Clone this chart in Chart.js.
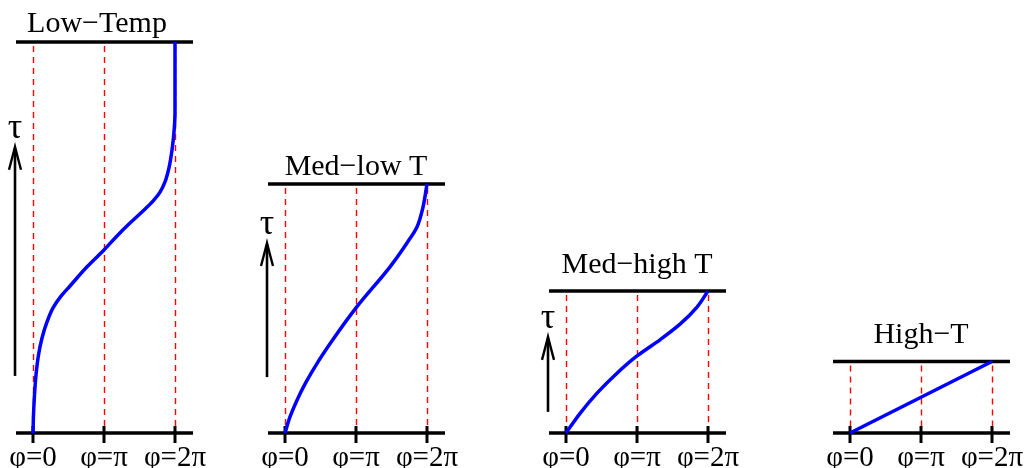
<!DOCTYPE html>
<html>
<head>
<meta charset="utf-8">
<script src="https://cdn.jsdelivr.net/npm/chart.js@4.4.1/dist/chart.umd.min.js"></script>
<style>
  html, body { margin: 0; padding: 0; background: #fff; overflow: hidden; }
  #wrap { position: relative; width: 1033px; height: 468px; }
  #wrap canvas { position: absolute; top: 0; }
</style>
</head>
<body>
<div id="wrap"></div>
<script>
// Kink profiles phi(tau) at four temperatures. phi in units of pi, tau in units of 1/T.
const panelTitles = ["Low−Temp", "Med−low T", "Med−high T", "High−T"];
const betas = [10, 6.37, 3.63, 1.83];
const tickPhi = [0, 1, 2];
const tickLabels = ["φ=0", "φ=π", "φ=2π"];

const lowTempPhi = [0, 0.007, 0.021, 0.042, 0.077, 0.127, 0.197, 0.282, 0.394, 0.521, 0.761, 1.0,
  1.183, 1.366, 1.549, 1.690, 1.789, 1.859, 1.915, 1.958, 1.986, 2.0, 2.0];
const lowTempTau = [0, 0.46, 0.97, 1.48, 1.99, 2.43, 2.84, 3.20, 3.50, 3.76, 4.25, 4.68,
  5.04, 5.37, 5.68, 5.93, 6.16, 6.42, 6.78, 7.24, 7.70, 8.21, 10];

const medLowPhi = [0, 0.070, 0.169, 0.296, 0.465, 0.690, 1.0, 1.479, 1.718, 1.859, 1.944, 2.0];
const medLowTau = [0, 0.41, 0.84, 1.30, 1.82, 2.43, 3.20, 4.25, 4.86, 5.27, 5.78, 6.37];

const medHighPhi = [0, 0.201, 0.437, 0.718, 1.0, 1.328, 1.610, 1.845, 2.0];
const medHighTau = [0, 0.51, 1.02, 1.53, 1.97, 2.39, 2.79, 3.22, 3.63];

const highTPhi = [0, 2];
const highTTau = [0, 1.83];

const curvesPhi = [lowTempPhi, medLowPhi, medHighPhi, highTPhi];
const curvesTau = [lowTempTau, medLowTau, medHighTau, highTTau];

// layout
const PX_PER_TAU = 39.1;
const AXIS_Y = 433;
const canvasLeft = [0, 252, 533, 817];
const titleGap = [10, 9, 18, 18];
const titleShift = [-7, 0, 0, 0];
const arrowSpan = [[1.46, 7.32], [1.43, 4.86], [0.54, 2.46], null];

const SERIF = '"Liberation Serif", "Times New Roman", serif';

const decorPlugin = {
  id: 'decor',
  beforeDatasetsDraw(chart, args, opts) {
    const ctx = chart.ctx;
    const xs = chart.scales.x, ys = chart.scales.y;
    const area = chart.chartArea;
    const yTop = ys.getPixelForValue(ys.max);
    const yBot = ys.getPixelForValue(0);
    ctx.save();

    // dashed red guides at 0, pi, 2pi
    ctx.strokeStyle = '#ff0000';
    ctx.lineWidth = 1.4;
    ctx.setLineDash([6, 5]);
    tickPhi.forEach(p => {
      const px = Math.round(xs.getPixelForValue(p)) + 0.5;
      ctx.beginPath();
      ctx.moveTo(px, yTop + 4);
      ctx.lineTo(px, yBot);
      ctx.stroke();
    });
    ctx.setLineDash([]);

    // top and bottom bars
    ctx.strokeStyle = '#000';
    ctx.lineWidth = 3.5;
    [yTop, yBot].forEach(py => {
      ctx.beginPath();
      ctx.moveTo(area.left, py);
      ctx.lineTo(area.right, py);
      ctx.stroke();
    });

    // ticks + labels
    ctx.lineWidth = 3;
    ctx.fillStyle = '#000';
    ctx.font = '29px ' + SERIF;
    ctx.textAlign = 'center';
    ctx.textBaseline = 'alphabetic';
    tickPhi.forEach((p, i) => {
      const px = xs.getPixelForValue(p);
      ctx.beginPath();
      ctx.moveTo(px, yBot - 7);
      ctx.lineTo(px, yBot + 10);
      ctx.stroke();
      ctx.fillText(tickLabels[i], px, yBot + 33);
    });

    // title
    ctx.font = '30px ' + SERIF;
    ctx.fillText(opts.title, xs.getPixelForValue(1) + opts.shift, yTop - opts.gap);

    // tau arrow
    if (opts.arrow) {
      const ax = area.left - 1;
      const y0 = ys.getPixelForValue(opts.arrow[0]);
      const y1 = ys.getPixelForValue(opts.arrow[1]);
      ctx.lineWidth = 2.6;
      ctx.beginPath();
      ctx.moveTo(ax, y0);
      ctx.lineTo(ax, y1 + 2);
      ctx.stroke();
      ctx.lineWidth = 2.4;
      ctx.beginPath();
      ctx.moveTo(ax - 6, y1 + 23);
      ctx.quadraticCurveTo(ax - 2.5, y1 + 10, ax, y1);
      ctx.quadraticCurveTo(ax + 2.5, y1 + 10, ax + 6, y1 + 23);
      ctx.stroke();
      ctx.font = '36px ' + SERIF;
      ctx.fillText('τ', ax, y1 - 9);
    }
    ctx.restore();
  }
};

const wrap = document.getElementById('wrap');
panelTitles.forEach((title, k) => {
  const canvas = document.createElement('canvas');
  canvas.width = 220;
  canvas.height = 468;
  canvas.style.left = canvasLeft[k] + 'px';
  wrap.appendChild(canvas);

  const points = curvesPhi[k].map((p, i) => ({ x: p, y: curvesTau[k][i] }));

  new Chart(canvas.getContext('2d'), {
    type: 'line',
    data: {
      datasets: [{
        data: points,
        indexAxis: 'y',
        borderColor: '#0000ff',
        borderWidth: 3.5,
        pointRadius: 0,
        cubicInterpolationMode: 'monotone',
        fill: false,
        clip: false
      }]
    },
    options: {
      indexAxis: 'y',
      responsive: false,
      animation: false,
      layout: {
        padding: { left: 16, right: 27, top: AXIS_Y - betas[k] * PX_PER_TAU, bottom: 468 - AXIS_Y }
      },
      scales: {
        x: { type: 'linear', display: false, min: -17 / 71, max: 2 + 18 / 71 },
        y: { type: 'linear', display: false, min: 0, max: betas[k] }
      },
      plugins: {
        legend: { display: false },
        tooltip: { enabled: false },
        decor: { title: title, gap: titleGap[k], shift: titleShift[k], arrow: arrowSpan[k] }
      }
    },
    plugins: [decorPlugin]
  });
});
</script>
</body>
</html>
